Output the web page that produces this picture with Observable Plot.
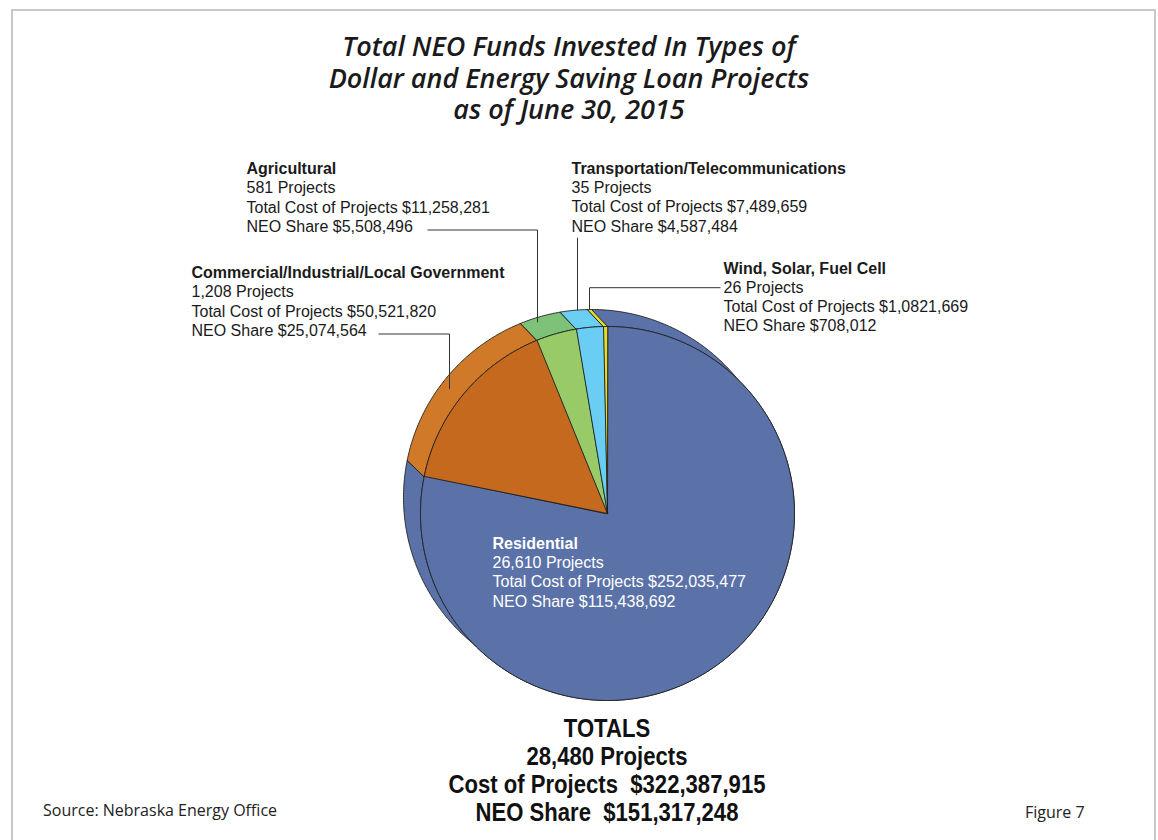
<!DOCTYPE html>
<html>
<head>
<meta charset="utf-8">
<script src="https://cdn.jsdelivr.net/npm/d3@7"></script>
<script src="https://cdn.jsdelivr.net/npm/@observablehq/plot@0.6"></script>
<style>
  body { margin: 0; background: #fff; }
  #page { position: relative; width: 1158px; height: 840px; overflow: hidden; background: #fff; }
  #frame { position: absolute; left: 11px; top: 9px; width: 1145px; height: 900px; border: 2px solid #c8c8c8; box-sizing: border-box; }
  #chart { position: absolute; left: 0; top: 0; }
  #title { position: absolute; left: 0; width: 1138px; top: 30px; text-align: center;
           font-family: "Open Sans", Lato, sans-serif; font-style: italic; font-weight: 600;
           font-size: 27px; line-height: 31.5px; color: #1a1a1a; }
  #totals { position: absolute; left: 0; width: 1214px; top: 714px; text-align: center;
            font-family: "Liberation Sans", Arial, sans-serif; font-weight: bold;
            font-size: 26px; line-height: 28px; color: #111; }
  #totals div { transform: scaleX(0.85); transform-origin: 607px 50%; }
  #source { position: absolute; left: 43px; top: 799px; font-family: "Open Sans", sans-serif;
            font-size: 16px; color: #222; }
  #figure { position: absolute; left: 1025px; top: 801px; font-family: "Open Sans", sans-serif;
            font-size: 16px; color: #222; }
</style>
</head>
<body>
<div id="page">
  <div id="frame"></div>
  <div id="chart"></div>
  <div id="title"></div>
  <div id="totals"></div>
  <div id="source"></div>
  <div id="figure"></div>
</div>
<script>
// ---------------- data ----------------
const categories = ["Residential", "Commercial/Industrial/Local Government", "Agricultural", "Transportation/Telecommunications", "Wind, Solar, Fuel Cell"];
const projects = [26610, 1208, 581, 35, 26];
const totalCost = [252035477, 50521820, 11258281, 7489659, 1082669];
const costLabels = ["$252,035,477", "$50,521,820", "$11,258,281", "$7,489,659", "$1,0821,669"];
const neoShare = [115438692, 25074564, 5508496, 4587484, 708012];
const frontColors = ["#5b72a8", "#c5691f", "#98cb68", "#69cdf4", "#e6dc2c"];
const rimColors = ["#5b72a8", "#d07a29", "#7ec27a", "#6bcef3", "#e6dc2c"];
const titleLines = ["Total NEO Funds Invested In Types of", "Dollar and Energy Saving Loan Projects", "as of June 30, 2015"];
const totalsLines = ["TOTALS", "28,480 Projects", "Cost of Projects\u00a0 $322,387,915", "NEO Share\u00a0 $151,317,248"];
const sourceText = "Source: Nebraska Energy Office";
const figureText = "Figure 7";

// ---------------- layout ----------------
const W = 1158, H = 840;
const front = {cx: 607, cy: 513, r: 187};
const back = {cx: 591, cy: 497, r: 188};
const labelLayout = [
  {x: 492, y: 543, step: 19.4, fill: "white"},
  {x: 191, y: 272, step: 19.5, fill: "#1a1a1a", leader: {x0: 378, xv: 449, t: 0.4}},
  {x: 246, y: 168, step: 19.5, fill: "#1a1a1a", leader: {x0: 427, xv: 537, t: 0.22}},
  {x: 571, y: 168, step: 19.4, fill: "#1a1a1a", leader: {x0: null, xv: 577, t: 0}},
  {x: 723, y: 268, step: 19.2, fill: "#1a1a1a", leader: {x0: 720, xv: 589, t: 0}}
];

document.getElementById("title").innerHTML = titleLines.join("<br>");
document.getElementById("totals").innerHTML = totalsLines.map(t => `<div>${t}</div>`).join("");
document.getElementById("source").textContent = sourceText;
document.getElementById("figure").textContent = figureText;

// ---------------- geometry ----------------
const rows = categories.map((c, i) => ({i, name: c, cost: totalCost[i]}));
const arcs = d3.pie().sort(null).value(d => d.cost)(rows);

function arcPts(c, a0, a1) {
  const n = Math.max(2, Math.ceil(Math.abs(a1 - a0) / (Math.PI / 360)));
  return d3.range(n + 1).map(k => {
    const a = a0 + (a1 - a0) * k / n;
    return [c.cx + c.r * Math.sin(a), c.cy - c.r * Math.cos(a)];
  });
}

const sideRows = [], faceRows = [];
arcs.forEach(a => {
  const i = a.data.i;
  const side = [...arcPts(front, a.startAngle, a.endAngle), ...arcPts(back, a.endAngle, a.startAngle)];
  side.forEach(([x, y]) => sideRows.push({id: i, x, y, fill: rimColors[i]}));
  const face = [[front.cx, front.cy], ...arcPts(front, a.startAngle, a.endAngle)];
  face.forEach(([x, y]) => faceRows.push({id: i, x, y, fill: frontColors[i]}));
});

// rim point at a given x, t = 0 on back circle, 1 on front circle
function rimY(x, t) {
  const cx = back.cx + (front.cx - back.cx) * t;
  const cy = back.cy + (front.cy - back.cy) * t;
  const r = back.r + (front.r - back.r) * t;
  return cy - Math.sqrt(r * r - (x - cx) * (x - cx));
}

const boldRows = [], textRows = [], leaderRows = [];
categories.forEach((c, i) => {
  const L = labelLayout[i];
  boldRows.push({x: L.x, y: L.y, text: c, fill: L.fill});
  const lines = [
    `${d3.format(",")(projects[i])} Projects`,
    `Total Cost of Projects ${costLabels[i]}`,
    `NEO Share ${d3.format("$,")(neoShare[i])}`
  ];
  lines.forEach((t, k) => textRows.push({x: L.x, y: L.y + L.step * (k + 1), text: t, fill: L.fill}));
  if (L.leader) {
    const ld = L.leader;
    const yEnd = rimY(ld.xv, ld.t);
    if (ld.x0 === null) {
      const yTop = L.y + L.step * 3 + 11;
      leaderRows.push({id: i, x: ld.xv, y: yTop}, {id: i, x: ld.xv, y: yEnd});
    } else {
      const yH = i === 4 ? L.y + L.step : L.y + L.step * 3 + 3;
      leaderRows.push({id: i, x: ld.x0, y: yH}, {id: i, x: ld.xv, y: yH}, {id: i, x: ld.xv, y: yEnd});
    }
  }
});

const font = "'Liberation Sans', Arial, sans-serif";

const chart = Plot.plot({
  width: W,
  height: H,
  margin: 0,
  x: {domain: [0, W], range: [0, W], axis: null},
  y: {domain: [0, H], range: [0, H], axis: null},
  color: {type: "identity"},
  style: {background: "transparent", fontFamily: font},
  marks: [
    Plot.line(sideRows, {x: "x", y: "y", z: "id", fill: "fill", stroke: "#1e1e1e", strokeWidth: 0.9, curve: "linear-closed"}),
    Plot.line(faceRows, {x: "x", y: "y", z: "id", fill: "fill", stroke: "#1e1e1e", strokeWidth: 0.9, curve: "linear-closed"}),
    Plot.line(leaderRows, {x: "x", y: "y", z: "id", stroke: "#333", strokeWidth: 1, curve: "linear", strokeLinecap: "butt"}),
    Plot.text(boldRows, {x: "x", y: "y", text: "text", fill: "fill", textAnchor: "start", fontWeight: "bold", fontSize: 16, fontFamily: font}),
    Plot.text(textRows, {x: "x", y: "y", text: "text", fill: "fill", textAnchor: "start", fontSize: 16, fontFamily: font})
  ]
});
document.getElementById("chart").appendChild(chart);
</script>
</body>
</html>
